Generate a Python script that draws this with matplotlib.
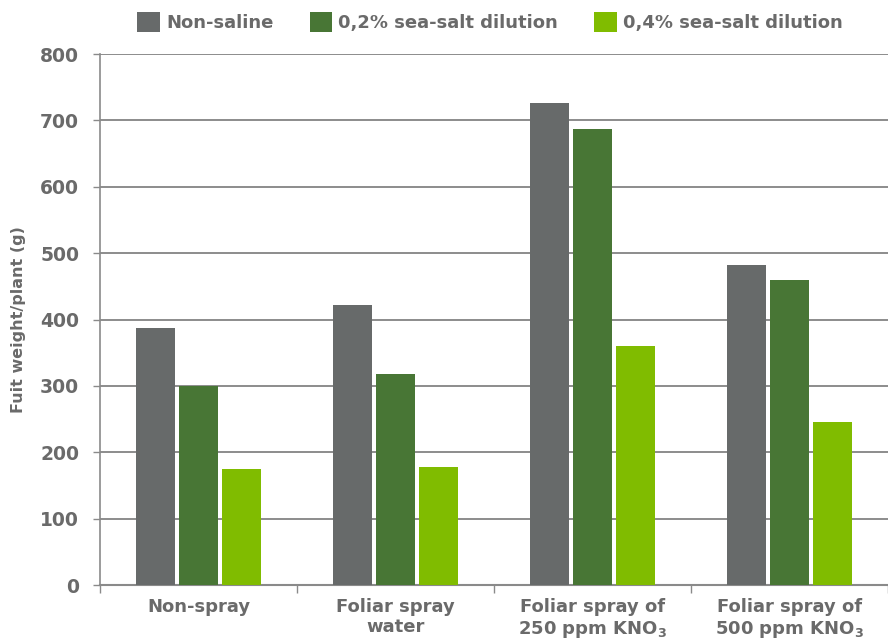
import matplotlib
matplotlib.use("Agg")
import matplotlib.pyplot as plt
import numpy as np

categories = ["Non-spray", "Foliar spray\nwater",
              "Foliar spray of\n250 ppm KNO$_\\mathbf{3}$",
              "Foliar spray of\n500 ppm KNO$_\\mathbf{3}$"]
series_names = ["Non-saline", "0,2% sea-salt dilution", "0,4% sea-salt dilution"]
non_saline = [388, 422, 727, 482]
salt_02 = [300, 318, 687, 459]
salt_04 = [175, 178, 360, 245]
colors = ["#676a6a", "#487635", "#80bc00"]
text_col = "#6a6a6a"

plt.rcParams["font.family"] = ["DejaVu Sans"]
plt.rcParams["font.weight"] = "bold"
plt.rcParams["mathtext.fontset"] = "dejavusans"

fig = plt.figure(figsize=(8.88, 6.44), dpi=100)
ax = fig.add_axes([0.1126, 0.0916, 0.8874, 0.8244])

x = np.arange(len(categories))
w = 0.195
offs = [-0.218, 0, 0.218]
for vals, off, c, name in zip([non_saline, salt_02, salt_04], offs, colors, series_names):
    ax.bar(x + off, vals, w, color=c, label=name, zorder=3)

ax.set_xlim(-0.5, 3.5)
ax.set_ylim(0, 800)
ax.set_yticks(range(0, 801, 100))
ax.yaxis.grid(True, color="#8c8c8c", linewidth=1.4, zorder=0)
ax.set_axisbelow(True)

for s in ["top", "right"]:
    ax.spines[s].set_visible(False)
ax.spines["left"].set_color("#8a8a8a")
ax.spines["bottom"].set_color("#8a8a8a")
ax.spines["left"].set_linewidth(1.2)
ax.spines["bottom"].set_linewidth(1.5)

ax.set_xticks(x)
ax.set_xticklabels(categories, fontsize=13, color=text_col, fontweight="bold", linespacing=1.2)
ax.tick_params(axis="x", length=0, pad=9)
ax.set_xticks(np.arange(-0.5, 3.6, 1), minor=True)
ax.tick_params(axis="x", which="minor", length=6, color="#8a8a8a", width=1)
ax.tick_params(axis="y", length=5, color="#8a8a8a", width=1, labelsize=13.5, labelcolor=text_col, pad=10)
for t in ax.get_yticklabels():
    t.set_fontweight("bold")

ax.set_ylabel("Fuit weight/plant (g)", fontsize=11.5, color=text_col, fontweight="bold", labelpad=10)

ax.legend(loc="center", bbox_to_anchor=(0.495, 1.06), ncol=3, frameon=False,
          handlelength=1.25, handleheight=1.25, handletextpad=0.35,
          columnspacing=2.0, labelcolor=text_col, prop={"weight": "bold", "size": 13})

fig.savefig("out.png", dpi=100)
